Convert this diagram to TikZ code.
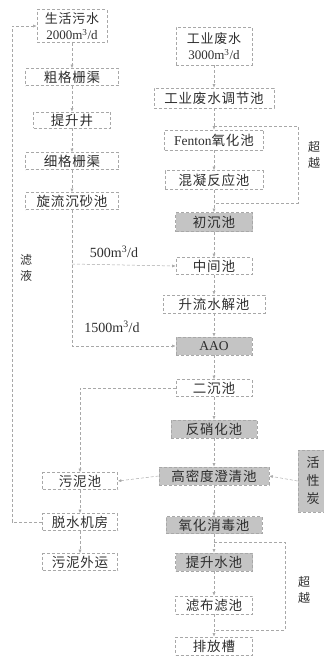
\documentclass[tikz,border=0pt]{standalone}
\usepackage{fontspec}
\setmainfont{Liberation Serif}
\newfontfamily\cjk[LetterSpace=6]{Noto Sans CJK SC}
\usetikzlibrary{arrows.meta}
\definecolor{ink}{HTML}{2E2E2E}
\definecolor{lnc}{HTML}{A8A8A8}
\definecolor{fillg}{HTML}{C4C4C4}
\tikzset{
  box/.style={draw=lnc, densely dashed, line width=0.7pt, text=ink, inner sep=0pt,
    font=\fontsize{13.5}{14}\selectfont, align=center},
  gbox/.style={box, fill=fillg},
  twoline/.style={font=\fontsize{13}{16.5}\selectfont},
  flow/.style={draw=lnc, densely dashed, line width=0.5pt},
  arr/.style={flow, -{Latex[length=3.5pt,width=3pt]}},
  lab/.style={text=ink, font=\fontsize{14}{15}\selectfont, inner sep=0pt},
  clab/.style={text=ink, font=\fontsize{12}{16}\selectfont\cjk, inner sep=0pt, align=center}
}
\begin{document}
\begin{tikzpicture}[x=1pt,y=-1pt]
\useasboundingbox (0,0) rectangle (324,657);
\clip (0,0) rectangle (324,657);
% left column
\node[box, twoline, minimum width=70, minimum height=33] (live) at (72,26) {{\cjk 生活污水}\\2000m\textsuperscript{3}/d};
\node[box, minimum width=93, minimum height=17] (cu) at (72,77) {\cjk 粗格栅渠};
\node[box, minimum width=77, minimum height=16] (tsj) at (72,120) {\cjk 提升井};
\node[box, minimum width=93, minimum height=17] (xi) at (72,161) {\cjk 细格栅渠};
\node[box, minimum width=93, minimum height=17] (xl) at (72,201) {\cjk 旋流沉砂池};
% right column
\node[box, twoline, minimum width=76, minimum height=38] (ind) at (214,46) {{\cjk 工业废水}\\3000m\textsuperscript{3}/d};
\node[box, minimum width=120, minimum height=20] (tj) at (214,98) {\cjk 工业废水调节池};
\node[box, minimum width=99, minimum height=20] (fen) at (214,140) {Fenton{\cjk 氧化池}};
\node[box, minimum width=98, minimum height=19] (hn) at (214,180) {\cjk 混凝反应池};
\node[gbox, minimum width=77, minimum height=19] (cc) at (214,222) {\cjk 初沉池};
\node[box, minimum width=76, minimum height=17] (zj) at (214,266) {\cjk 中间池};
\node[box, minimum width=102, minimum height=18] (sl) at (214,304) {\cjk 升流水解池};
\node[gbox, minimum width=76, minimum height=18] (aao) at (214,346) {AAO};
\node[box, minimum width=76, minimum height=17] (ec) at (214,388) {\cjk 二沉池};
\node[gbox, minimum width=86, minimum height=18] (fx) at (214,429) {\cjk 反硝化池};
\node[gbox, minimum width=110, minimum height=18] (gm) at (214,476) {\cjk 高密度澄清池};
\node[gbox, minimum width=96, minimum height=17] (yh) at (214,525) {\cjk 氧化消毒池};
\node[gbox, minimum width=77, minimum height=18] (tsc) at (214,562) {\cjk 提升水池};
\node[box, minimum width=77, minimum height=18] (lb) at (214,605) {\cjk 滤布滤池};
\node[box, minimum width=77, minimum height=18] (pf) at (214,646) {\cjk 排放槽};
\node[gbox, minimum width=30, minimum height=62, font=\fontsize{13}{18}\selectfont\cjk] (hxt) at (313,481) {活\\性\\炭};
% sludge
\node[box, minimum width=75, minimum height=17] (wn) at (80,481) {\cjk 污泥池};
\node[box, minimum width=75, minimum height=17] (tsf) at (80,522) {\cjk 脱水机房};
\node[box, minimum width=75, minimum height=17] (wy) at (80,562) {\cjk 污泥外运};
% coordinates
\coordinate (b1) at (72,264);
\coordinate (b2) at (72,346);
\coordinate (s1) at (80,388);
\coordinate (f1) at (12,522);
\coordinate (f2) at (12,26);
\coordinate (p1a) at (214,126);
\coordinate (p1b) at (298,126);
\coordinate (p1c) at (298,203);
\coordinate (p1d) at (214,203);
\coordinate (p2a) at (214,542);
\coordinate (p2b) at (285,542);
\coordinate (p2c) at (285,630);
\coordinate (p2d) at (214,630);
% left chain
\draw[arr] (live) -- (cu);
\draw[arr] (cu) -- (tsj);
\draw[arr] (tsj) -- (xi);
\draw[arr] (xi) -- (xl);
\draw[arr] (xl.south) -- (b2) -- (aao.west);
\draw[arr] (b1) -- (zj.west);
% right chain
\draw[arr] (ind) -- (tj);
\draw[arr] (tj) -- (fen);
\draw[arr] (fen) -- (hn);
\draw[arr] (hn) -- (cc);
\draw[arr] (cc) -- (zj);
\draw[arr] (zj) -- (sl);
\draw[arr] (sl) -- (aao);
\draw[arr] (aao) -- (ec);
\draw[arr] (ec) -- (fx);
\draw[arr] (fx) -- (gm);
\draw[arr] (gm) -- (yh);
\draw[arr] (yh) -- (tsc);
\draw[arr] (tsc) -- (lb);
\draw[arr] (lb) -- (pf);
\draw[arr] (hxt.west) -- (gm.east);
% bypasses
\draw[flow] (p1a) -- (p1b) -- (p1c) -- (p1d);
\draw[flow] (p2a) -- (p2b) -- (p2c) -- (p2d);
% sludge
\draw[arr] (ec.west) -- (s1) -- (wn.north);
\draw[arr] (gm.west) -- (wn.east);
\draw[arr] (wn) -- (tsf);
\draw[arr] (tsf) -- (wy);
\draw[arr] (tsf.west) -- (f1) -- (f2) -- (live.west);
% labels
\node[lab] (l500) at (114,252) {500m\textsuperscript{3}/d};
\node[lab] (l1500) at (112,327) {1500m\textsuperscript{3}/d};
\node[clab] (lly) at (26,268) {滤\\液};
\node[clab] (lcy1) at (314,155) {超\\越};
\node[clab] (lcy2) at (304,590) {超\\越};
\end{tikzpicture}
\end{document}
